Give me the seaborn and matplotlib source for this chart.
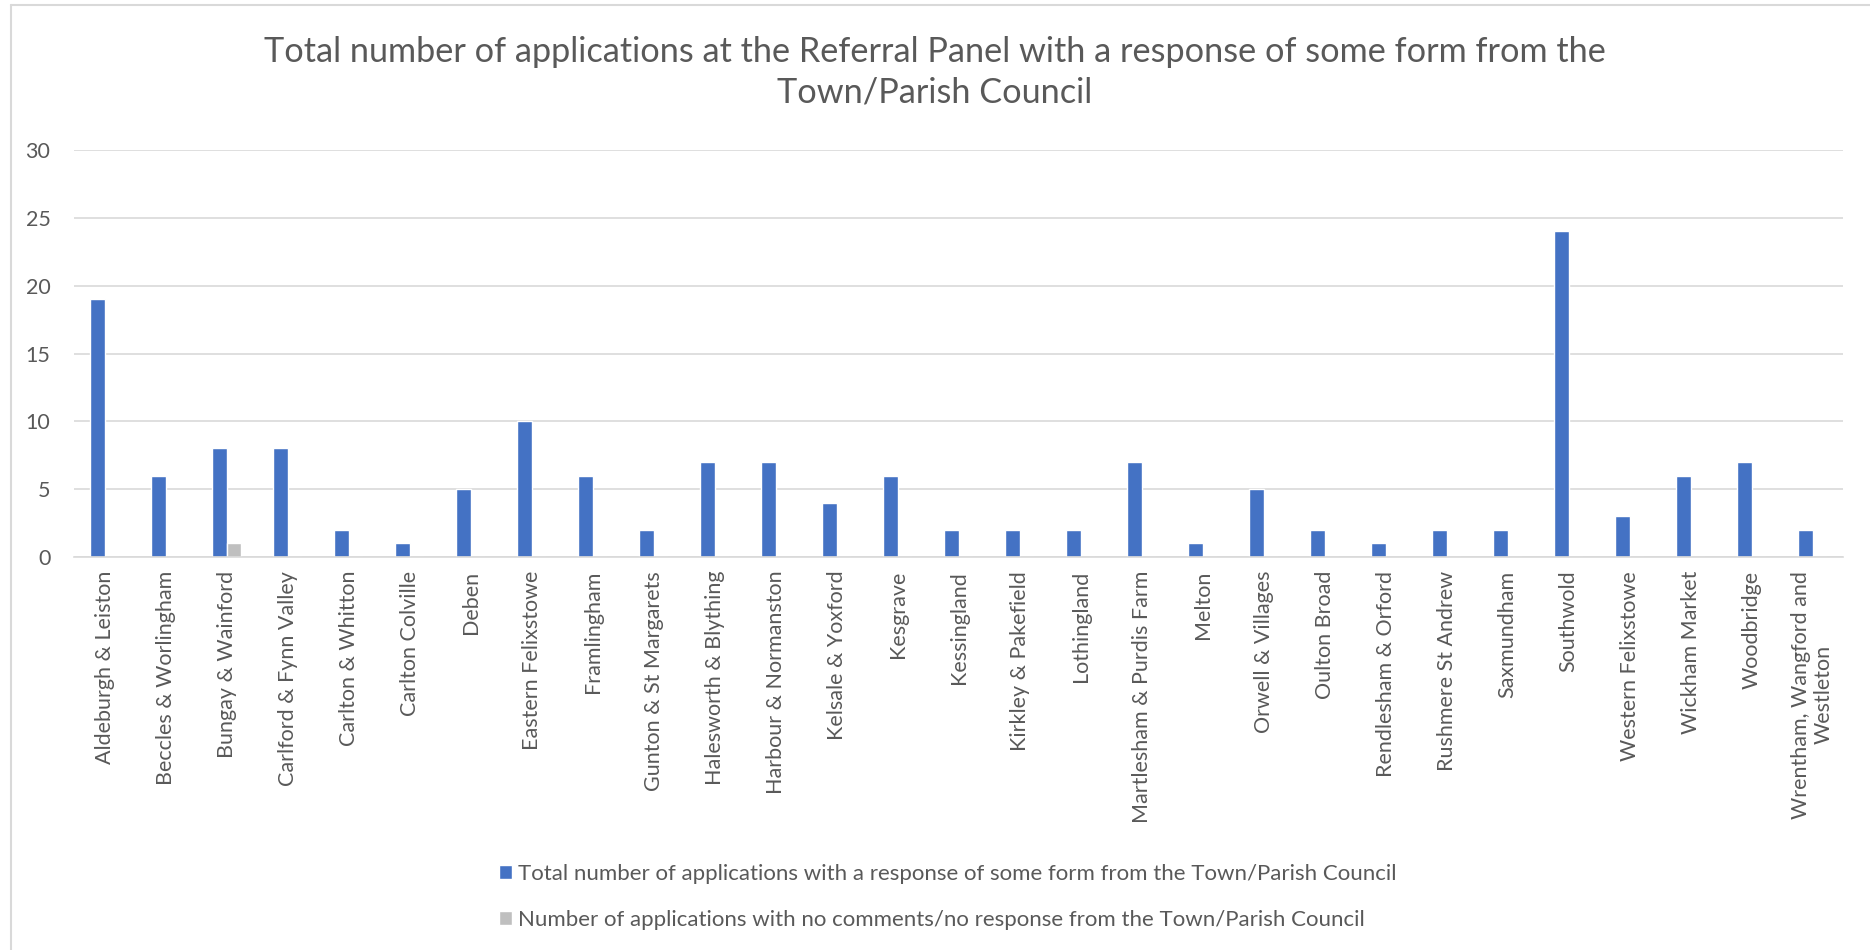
import matplotlib.pyplot as plt
import seaborn as sns
import pandas as pd
from matplotlib.lines import Line2D

# 데이터
areas = [
    "Aldeburgh & Leiston", "Beccles & Worlingham", "Bungay & Wainford",
    "Carlford & Fynn Valley", "Carlton & Whitton", "Carlton Colville", "Deben",
    "Eastern Felixstowe", "Framlingham", "Gunton & St Margarets",
    "Halesworth & Blything", "Harbour & Normanston", "Kelsale & Yoxford",
    "Kesgrave", "Kessingland", "Kirkley & Pakefield", "Lothingland",
    "Martlesham & Purdis Farm", "Melton", "Orwell & Villages", "Oulton Broad",
    "Rendlesham & Orford", "Rushmere St Andrew", "Saxmundham", "Southwold",
    "Western Felixstowe", "Wickham Market", "Woodbridge",
    "Wrentham, Wangford and\nWestleton",
]
total_response = [19, 6, 8, 8, 2, 1, 5, 10, 6, 2, 7, 7, 4, 6, 2, 2, 2, 7, 1, 5,
                  2, 1, 2, 2, 24, 3, 6, 7, 2]
no_response = [0, 0, 1, 0, 0, 0, 0, 0, 0, 0, 0, 0, 0, 0, 0, 0, 0, 0, 0, 0,
               0, 0, 0, 0, 0, 0, 0, 0, 0]

series_names = [
    "Total number of applications with a response of some form from the Town/Parish Council",
    "Number of applications with no comments/no response from the Town/Parish Council",
]
colors = ["#4472C4", "#BFBFBF"]
text_color = "#595959"
grid_color = "#D9D9D9"

df = pd.concat([
    pd.DataFrame({"area": areas, "value": total_response, "series": series_names[0]}),
    pd.DataFrame({"area": areas, "value": no_response, "series": series_names[1]}),
])

sns.set_style("white")
plt.rcParams['font.family'] = ['Lato', 'DejaVu Sans']

fig = plt.figure(figsize=(18.7, 9.5), dpi=100)
ax = fig.add_axes([0.0396, 0.4137, 0.946, 0.4283])

sns.barplot(data=df, x="area", y="value", hue="series", hue_order=series_names,
            palette=colors, width=0.48, dodge=True, saturation=1, ax=ax,
            errorbar=None, legend=True)

ax.set_ylim(0, 30)
ax.set_yticks(range(0, 31, 5))
ax.set_xlim(-0.5, len(areas) - 0.5)
ax.set_xlabel("")
ax.set_ylabel("")
ax.yaxis.grid(True, color=grid_color, linewidth=1.2)
ax.set_axisbelow(True)
for s in ["top", "right", "left"]:
    ax.spines[s].set_visible(False)
ax.spines["bottom"].set_color(grid_color)
ax.spines["bottom"].set_linewidth(1.2)
ax.tick_params(axis="both", length=0, colors=text_color, labelsize=15.5)
ax.tick_params(axis="y", pad=17)
ax.tick_params(axis="x", pad=10)
for lbl in ax.get_xticklabels():
    lbl.set_rotation(90)
    lbl.set_multialignment("center")

# 제목
fig.text(0.5, 0.924, "Total number of applications at the Referral Panel with a response of some form from the\nTown/Parish Council",
         ha="center", va="center", fontsize=24.7, color=text_color, linespacing=1.35)

# 범례
handles, labels = ax.get_legend_handles_labels()
ax.legend_.remove()
leg = fig.legend(handles, labels, loc="center left", bbox_to_anchor=(0.256, 0.056),
                 bbox_transform=fig.transFigure, frameon=False, fontsize=16,
                 handlelength=0.6, handleheight=0.6, handletextpad=0.25, labelspacing=1.15)
for t in leg.get_texts():
    t.set_color(text_color)

# 차트 테두리
fig.add_artist(Line2D([11 / 1870, 11 / 1870], [0, 1 - 5 / 950], color=grid_color, lw=1.5))
fig.add_artist(Line2D([11 / 1870, 1], [1 - 5 / 950, 1 - 5 / 950], color=grid_color, lw=1.5))

fig.savefig("out.png", dpi=100)
